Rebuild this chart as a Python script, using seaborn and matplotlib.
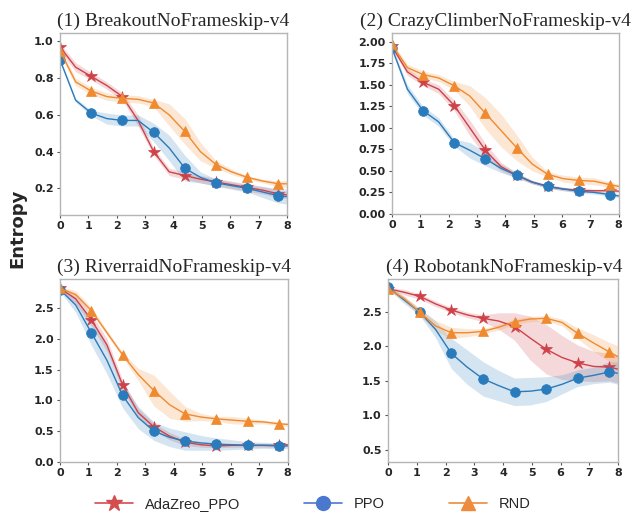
import matplotlib
matplotlib.use("Agg")
import matplotlib.pyplot as plt
from matplotlib.lines import Line2D
import seaborn as sns
import numpy as np
import pandas as pd

sns.set_style("white")
plt.rcParams["font.family"] = ["DejaVu Sans"]

# training steps (x axis); markers sit on every other point
steps = [0, 0.55, 1.1, 1.65, 2.2, 2.75, 3.3, 3.85, 4.4, 4.95, 5.5, 6.05, 6.6, 7.15, 7.7, 8.0]

titles = ["(1) BreakoutNoFrameskip-v4", "(2) CrazyClimberNoFrameskip-v4",
          "(3) RiverraidNoFrameskip-v4", "(4) RobotankNoFrameskip-v4"]
methods = ["AdaZreo_PPO", "PPO", "RND"]

# --- Breakout ---
brk_ada = [0.97, 0.86, 0.81, 0.76, 0.70, 0.57, 0.40, 0.29, 0.27, 0.25, 0.235, 0.22, 0.205, 0.19, 0.17, 0.165]
brk_ada_sd = [0.02, 0.025, 0.02, 0.02, 0.02, 0.03, 0.02, 0.02, 0.02, 0.02, 0.02, 0.02, 0.02, 0.02, 0.02, 0.02]
brk_ppo = [0.90, 0.68, 0.61, 0.58, 0.57, 0.57, 0.505, 0.42, 0.31, 0.26, 0.23, 0.215, 0.20, 0.18, 0.16, 0.155]
brk_ppo_sd = [0.01, 0.01, 0.015, 0.03, 0.03, 0.03, 0.05, 0.07, 0.07, 0.03, 0.02, 0.02, 0.02, 0.03, 0.04, 0.04]
brk_rnd = [0.95, 0.78, 0.73, 0.70, 0.69, 0.685, 0.665, 0.60, 0.51, 0.40, 0.33, 0.29, 0.26, 0.24, 0.225, 0.225]
brk_rnd_sd = [0.02, 0.02, 0.02, 0.02, 0.02, 0.02, 0.02, 0.06, 0.07, 0.05, 0.02, 0.015, 0.01, 0.01, 0.015, 0.02]

# --- CrazyClimber ---
cc_ada = [1.95, 1.65, 1.53, 1.45, 1.26, 1.00, 0.74, 0.55, 0.45, 0.37, 0.32, 0.29, 0.275, 0.27, 0.27, 0.265]
cc_ada_sd = [0.03, 0.04, 0.04, 0.05, 0.06, 0.09, 0.08, 0.05, 0.03, 0.02, 0.02, 0.02, 0.02, 0.02, 0.02, 0.02]
cc_ppo = [1.93, 1.45, 1.20, 1.07, 0.83, 0.74, 0.64, 0.53, 0.45, 0.37, 0.32, 0.29, 0.265, 0.25, 0.225, 0.21]
cc_ppo_sd = [0.03, 0.05, 0.05, 0.05, 0.04, 0.09, 0.08, 0.05, 0.03, 0.02, 0.02, 0.02, 0.02, 0.02, 0.02, 0.02]
cc_rnd = [1.97, 1.70, 1.62, 1.58, 1.49, 1.37, 1.17, 0.97, 0.77, 0.58, 0.46, 0.41, 0.39, 0.38, 0.34, 0.32]
cc_rnd_sd = [0.03, 0.04, 0.04, 0.04, 0.05, 0.12, 0.18, 0.19, 0.15, 0.08, 0.03, 0.04, 0.04, 0.04, 0.03, 0.03]

# --- Riverraid ---
rr_ada = [2.82, 2.65, 2.31, 1.90, 1.25, 0.80, 0.57, 0.42, 0.32, 0.28, 0.26, 0.27, 0.27, 0.27, 0.27, 0.28]
rr_ada_sd = [0.03, 0.08, 0.10, 0.10, 0.08, 0.07, 0.06, 0.06, 0.05, 0.04, 0.03, 0.03, 0.03, 0.03, 0.03, 0.03]
rr_ppo = [2.80, 2.55, 2.10, 1.65, 1.08, 0.72, 0.50, 0.40, 0.34, 0.31, 0.29, 0.28, 0.27, 0.27, 0.26, 0.26]
rr_ppo_sd = [0.03, 0.12, 0.20, 0.22, 0.20, 0.18, 0.15, 0.15, 0.15, 0.12, 0.10, 0.08, 0.06, 0.05, 0.05, 0.04]
rr_rnd = [2.82, 2.72, 2.46, 2.10, 1.74, 1.42, 1.16, 0.93, 0.78, 0.73, 0.70, 0.68, 0.66, 0.65, 0.62, 0.61]
rr_rnd_sd = [0.03, 0.06, 0.05, 0.04, 0.04, 0.10, 0.25, 0.22, 0.12, 0.06, 0.04, 0.06, 0.05, 0.03, 0.03, 0.03]

# --- Robotank ---
rt_ada = [2.84, 2.79, 2.73, 2.62, 2.53, 2.46, 2.41, 2.37, 2.29, 2.12, 1.96, 1.84, 1.76, 1.71, 1.70, 1.67]
rt_ada_sd = [0.02, 0.04, 0.04, 0.04, 0.04, 0.04, 0.05, 0.12, 0.20, 0.32, 0.36, 0.32, 0.26, 0.22, 0.20, 0.20]
rt_ppo = [2.86, 2.68, 2.50, 2.25, 1.90, 1.70, 1.53, 1.43, 1.34, 1.35, 1.38, 1.45, 1.54, 1.58, 1.63, 1.61]
rt_ppo_sd = [0.02, 0.05, 0.05, 0.12, 0.22, 0.25, 0.25, 0.22, 0.20, 0.20, 0.18, 0.14, 0.12, 0.12, 0.15, 0.16]
rt_rnd = [2.84, 2.70, 2.50, 2.30, 2.20, 2.20, 2.22, 2.28, 2.36, 2.40, 2.41, 2.35, 2.19, 2.05, 1.92, 1.85]
rt_rnd_sd = [0.02, 0.04, 0.05, 0.08, 0.08, 0.06, 0.04, 0.04, 0.04, 0.04, 0.04, 0.05, 0.08, 0.12, 0.14, 0.16]

panels = [
    [(brk_ada, brk_ada_sd), (brk_ppo, brk_ppo_sd), (brk_rnd, brk_rnd_sd)],
    [(cc_ada, cc_ada_sd), (cc_ppo, cc_ppo_sd), (cc_rnd, cc_rnd_sd)],
    [(rr_ada, rr_ada_sd), (rr_ppo, rr_ppo_sd), (rr_rnd, rr_rnd_sd)],
    [(rt_ada, rt_ada_sd), (rt_ppo, rt_ppo_sd), (rt_rnd, rt_rnd_sd)],
]
ylims = [(0.055, 1.045), (0.0, 2.1), (0.0, 2.97), (0.32, 2.98)]
yticks = [[0.2, 0.4, 0.6, 0.8, 1.0],
          [0.0, 0.25, 0.5, 0.75, 1.0, 1.25, 1.5, 1.75, 2.0],
          [0.0, 0.5, 1.0, 1.5, 2.0, 2.5],
          [0.5, 1.0, 1.5, 2.0, 2.5]]
ytick_fmt = ["{:.1f}", "{:.2f}", "{:.1f}", "{:.1f}"]
title_x = [0.5, 0.455, 0.5, 0.505]

colors = ["#cf4149", "#2a7bbb", "#f08a2e"]
legend_colors = ["#d44d4f", "#4a78cf", "#ee8b3c"]
markers = ["*", "o", "^"]
msizes = [9, 7, 7]

rects = [[0.095, 0.5825, 0.359, 0.353],
         [0.620, 0.5845, 0.359, 0.351],
         [0.095, 0.103, 0.360, 0.355],
         [0.614, 0.103, 0.364, 0.355]]

fig = plt.figure(figsize=(6.32, 5.15), dpi=100)

for i, series in enumerate(panels):
    ax = fig.add_axes(rects[i])
    for j, (mean, sd) in enumerate(series):
        df = pd.DataFrame({"step": steps, "entropy": mean})
        lo = np.array(mean) - np.array(sd)
        hi = np.array(mean) + np.array(sd)
        ax.fill_between(steps, lo, hi, color=colors[j], alpha=0.2, lw=0)
        sns.lineplot(data=df, x="step", y="entropy", ax=ax, color=colors[j],
                     lw=1.0, marker=markers[j], markersize=msizes[j],
                     markeredgecolor=colors[j], markeredgewidth=0.5,
                     markevery=2)
    ax.set_xlim(0, 8)
    ax.set_ylim(*ylims[i])
    ax.set_xticks(range(9))
    ax.set_yticks(yticks[i])
    ax.set_yticklabels([ytick_fmt[i].format(v) for v in yticks[i]])
    ax.set_xlabel("")
    ax.set_ylabel("")
    ax.tick_params(axis="both", length=2.5, width=0.8, color="#555555",
                   labelsize=8, pad=2, left=True, bottom=True)
    for lab in ax.get_xticklabels() + ax.get_yticklabels():
        lab.set_fontweight("bold")
    for sp in ax.spines.values():
        sp.set_color("#b5b5b5")
        sp.set_linewidth(1.0)
    ax.set_title(titles[i], fontsize=14, family="Liberation Serif", pad=5,
                 x=title_x[i])

fig.text(0.028, 0.557, "Entropy", rotation=90, fontsize=13, fontweight="bold",
         ha="center", va="center")

handles = [Line2D([0], [0], color=legend_colors[k], lw=1.2, marker=markers[k],
                  markersize=msizes[k] + 3, markeredgecolor=legend_colors[k])
           for k in range(3)]
fig.legend(handles, methods, loc="center", bbox_to_anchor=(0.495, 0.022), ncol=3,
           frameon=False, handlelength=2.6, columnspacing=4.4, handletextpad=0.8,
           prop={"family": "Liberation Sans", "size": 10.5})

fig.savefig("out.png", dpi=100)
